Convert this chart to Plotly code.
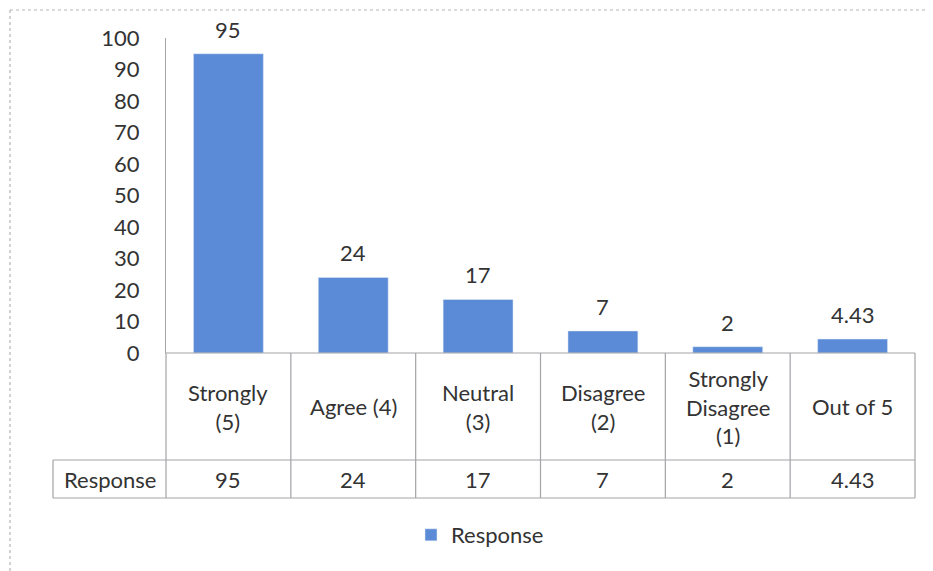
import plotly.graph_objects as go

CATEGORIES = ["Strongly (5)", "Agree (4)", "Neutral (3)", "Disagree (2)",
              "Strongly Disagree (1)", "Out of 5"]
HEADER_LABELS = ["Strongly<br>(5)", "Agree (4)", "Neutral<br>(3)", "Disagree<br>(2)",
                 "Strongly<br>Disagree<br>(1)", "Out of 5"]
RESPONSE = [95, 24, 17, 7, 2, 4.43]
SERIES_NAME = "Response"
Y_TICKS = list(range(0, 101, 10))

BAR_COLOR = "#5b8bd7"
LINE_COLOR = "#a3a3a8"
TEXT_COLOR = "#333333"
FONT = "Lato"
FS = 22

# page body adds an 8px offset, so work in page pixels and shift back
OFF = 8
W, H = 933, 571
L = 166 - OFF
T = 38 - OFF
B = H - (353 - OFF)
R = W - (915 - OFF)
PW, PH = W - L - R, H - T - B


def px_x(px):
    """page pixel x -> paper x"""
    return (px - OFF - L) / PW


def px_y(py):
    """page pixel y -> paper y"""
    return (H - B - (py - OFF)) / PH


fig = go.Figure(go.Bar(
    x=CATEGORIES,
    y=RESPONSE,
    name=SERIES_NAME,
    marker_color=BAR_COLOR,
    width=0.56,
    showlegend=True,
))

# data table under the axis
y_axis = px_y(353)
y_mid = px_y(460)
y_bot = px_y(498)
x_left = px_x(53)
line = dict(color=LINE_COLOR, width=1.2)

shapes = []
shapes.append(dict(type="line", xref="paper", yref="paper", x0=0, x1=1,
                   y0=y_axis, y1=y_axis, line=line))
shapes.append(dict(type="line", xref="paper", yref="paper", x0=x_left, x1=1,
                   y0=y_mid, y1=y_mid, line=line))
shapes.append(dict(type="line", xref="paper", yref="paper", x0=x_left, x1=1,
                   y0=y_bot, y1=y_bot, line=line))
shapes.append(dict(type="line", xref="paper", yref="paper", x0=x_left, x1=x_left,
                   y0=y_mid, y1=y_bot, line=line))
for i in range(len(CATEGORIES) + 1):
    xp = i / len(CATEGORIES)
    shapes.append(dict(type="line", xref="paper", yref="paper", x0=xp, x1=xp,
                       y0=y_axis, y1=y_bot, line=line))
# outer chart frame (only top and left are visible in the scan)
frame = dict(color="#b5b5bb", width=1.2, dash="dot")
shapes.append(dict(type="line", xref="paper", yref="paper",
                   x0=px_x(10), x1=px_x(941), y0=px_y(10), y1=px_y(10), line=frame))
shapes.append(dict(type="line", xref="paper", yref="paper",
                   x0=px_x(10), x1=px_x(10), y0=px_y(10), y1=px_y(580), line=frame))

annotations = []
font = dict(size=FS, color=TEXT_COLOR, family=FONT)
for cat, lab, val in zip(CATEGORIES, HEADER_LABELS, RESPONSE):
    # value label above the bar
    annotations.append(dict(x=cat, y=val, xref="x", yref="y", text=str(val),
                            showarrow=False, font=font, xanchor="center",
                            yanchor="bottom", yshift=9))
    annotations.append(dict(x=cat, xref="x", yref="paper", y=(y_axis + y_mid) / 2,
                            text=lab, showarrow=False, font=font,
                            xanchor="center", yanchor="middle"))
    annotations.append(dict(x=cat, xref="x", yref="paper", y=(y_mid + y_bot) / 2,
                            text=str(val), showarrow=False, font=font,
                            xanchor="center", yanchor="middle"))
annotations.append(dict(x=x_left / 2, xref="paper", yref="paper",
                        y=(y_mid + y_bot) / 2, text=SERIES_NAME, showarrow=False,
                        font=font, xanchor="center", yanchor="middle"))

fig.update_layout(
    width=W, height=H,
    margin=dict(l=L, r=R, t=T, b=B, autoexpand=False),
    plot_bgcolor="white",
    paper_bgcolor="white",
    font=dict(family=FONT, size=FS, color=TEXT_COLOR),
    shapes=shapes,
    annotations=annotations,
    legend=dict(orientation="h", x=px_x(480), xanchor="center",
                y=px_y(535), yanchor="middle",
                font=dict(size=FS, color=TEXT_COLOR, family=FONT),
                itemwidth=30),
    xaxis=dict(showticklabels=False, showgrid=False, showline=False,
               zeroline=False, range=[-0.5, 5.5]),
    yaxis=dict(range=[0, 100], tickvals=Y_TICKS, showgrid=False, zeroline=False,
               showline=True, linecolor=LINE_COLOR, linewidth=1.2,
               ticklabelstandoff=21, tickfont=dict(size=FS, color=TEXT_COLOR)),
)

fig.write_html("out.html")
